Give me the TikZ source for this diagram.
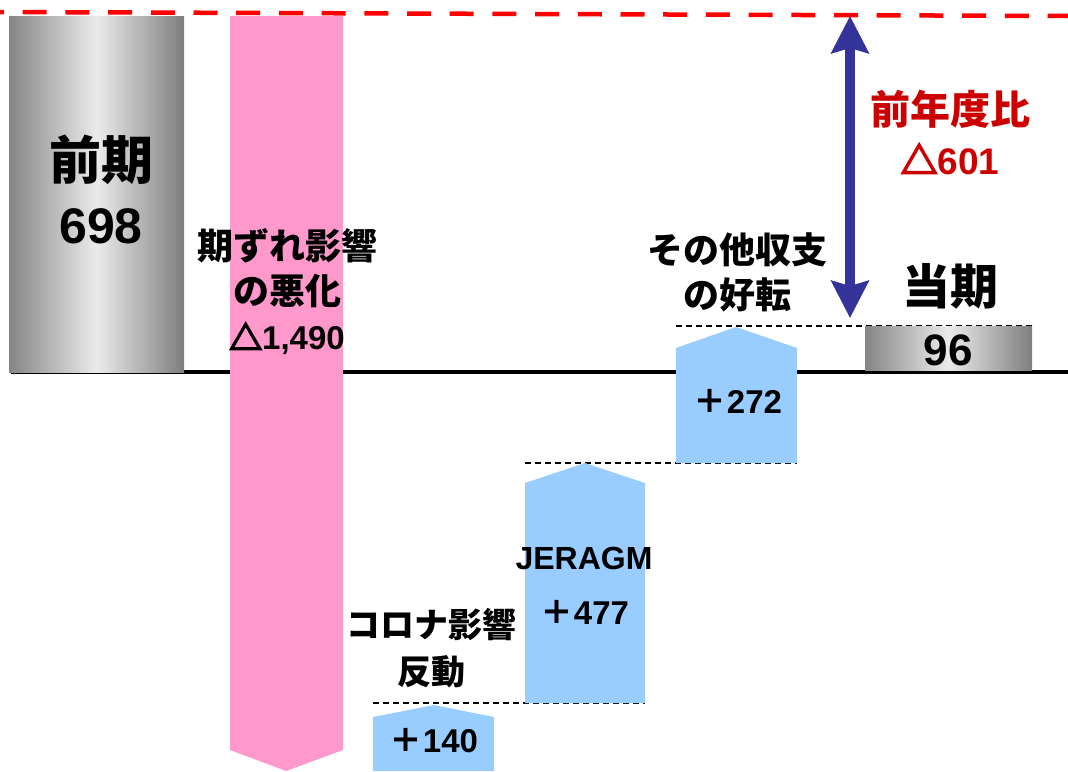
\documentclass[tikz,border=0pt]{standalone}
\usepackage{fontspec}
\setmainfont{Liberation Sans}
\newfontfamily\jp{Noto Sans CJK JP}
\newcommand{\tri}{{\jp\special{pdf:literal direct 2 Tr 1.6 w}△\special{pdf:literal direct 0 Tr}}}
\usetikzlibrary{arrows.meta}
\definecolor{pinkbar}{HTML}{FF99CC}
\definecolor{bluebar}{HTML}{99CCFF}
\definecolor{arrowblue}{HTML}{333399}
\definecolor{labelred}{HTML}{CC0000}
\definecolor{greydark}{HTML}{858585}
\definecolor{greylight}{HTML}{EBEBEB}
\tikzset{
  fs/.style={font=\bfseries\fontsize{#1}{#1}\selectfont},
  lbl/.style={inner sep=0pt, align=center, text=black},
  guide/.style={draw=black, line width=1.5pt, dash pattern=on 6pt off 4pt},
  greybar/.style={left color=greydark, right color=greydark!95!black, middle color=greylight},
}
\begin{document}
\begin{tikzpicture}[x=1pt,y=-1pt]
\useasboundingbox (0,0) rectangle (1068,771);
% red dashed reference line
\coordinate (redL) at (0,12);
\coordinate (redR) at (1068,16);
\draw[red, line width=4.5pt, dash pattern=on 24pt off 18.7pt, dash phase=20pt] (redL) -- (redR);
% baseline
\coordinate (baseL) at (11,372);
\coordinate (baseR) at (1068,372);
\draw[black, line width=4.5pt] (baseL) -- (baseR);
% previous-period bar
\shade[greybar] (9,16) rectangle (184,372);
% pink bar
\fill[pinkbar] (230,16) -- (343,16) -- (343,750) -- (286,771) -- (230,750) -- cycle;
% guide dashes
\draw[guide] (373,703) -- (645,703);
\draw[guide] (525,463) -- (797,463);
\draw[guide] (676,326) -- (1032,326);
% blue blocks
\fill[bluebar] (373,717) -- (434,705) -- (494,717) -- (494,771) -- (373,771) -- cycle;
\fill[bluebar] (525,483) -- (585,463) -- (645,483) -- (645,703) -- (525,703) -- cycle;
\fill[bluebar] (676,348) -- (736,327) -- (797,348) -- (797,463) -- (676,463) -- cycle;
% current-period bar
\shade[greybar] (865,326) rectangle (1032,370);
% blue double arrow
\coordinate (arrtop) at (850,16);
\coordinate (arrbot) at (850,318);
\draw[arrowblue, line width=10pt,
  {Stealth[length=37pt,width=37pt,inset=5pt]}-{Stealth[length=37pt,width=37pt,inset=5pt]}]
  (arrtop) -- (arrbot);
% labels
\node[lbl, fs=52] (prevname) at (101,160) {\jp 前期};
\node[lbl, fs=50] (prevval) at (101,226) {698};
\node[lbl, font=\bfseries\fontsize{36}{45}\selectfont] (kizure) at (287,292) {{\jp 期ずれ影響}\\{\jp の悪化}\\{\fontsize{33}{45}\selectfont\tri 1,490}};
\node[lbl, font=\bfseries\fontsize{34}{47}\selectfont] (corona) at (431,648) {{\jp コロナ影響}\\{\jp 反動}};
\node[lbl, fs=33] (corval) at (434,741) {{\jp ＋}140};
\node[lbl, fs=32] (jera) at (584,558) {JERAGM};
\node[lbl, fs=33] (jeraval) at (585,612) {{\jp ＋}477};
\node[lbl, font=\bfseries\fontsize{36}{45}\selectfont] (other) at (737,272) {{\jp その他収支}\\{\jp の好転}};
\node[lbl, fs=33] (otherval) at (738,401) {{\jp ＋}272};
\node[lbl, fs=48] (curname) at (950,286) {\jp 当期};
\node[lbl, fs=44] (curval) at (948,350) {96};
\node[lbl, text=labelred, font=\bfseries\fontsize{40}{50}\selectfont] (diff) at (950,132) {{\jp 前年度比}\\{\fontsize{37}{50}\selectfont\tri 601}};
\end{tikzpicture}
\end{document}
